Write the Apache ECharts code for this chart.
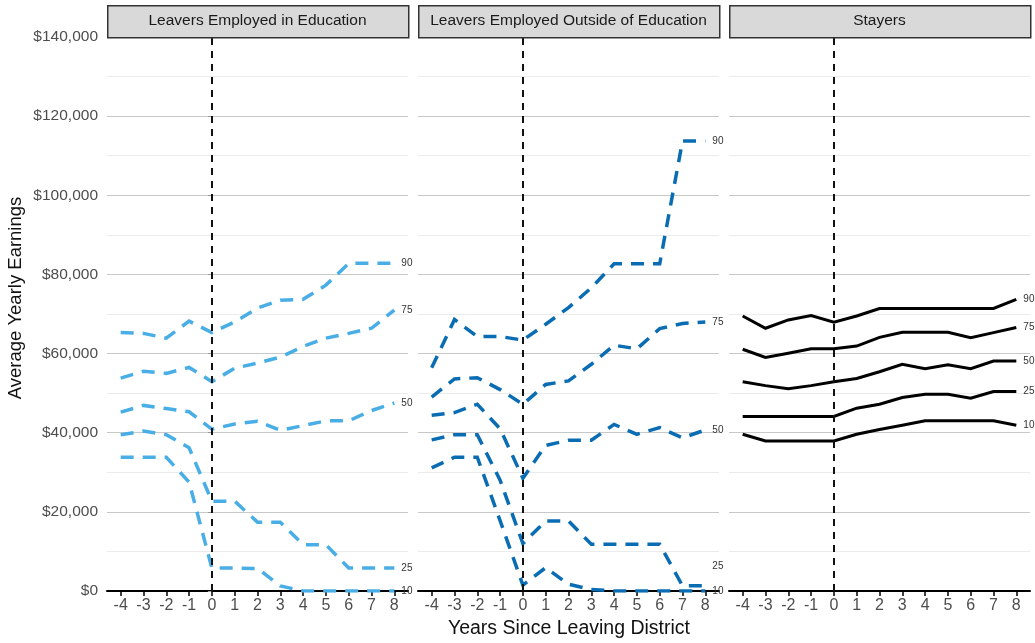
<!DOCTYPE html>
<html>
<head>
<meta charset="utf-8">
<script src="https://cdn.jsdelivr.net/npm/echarts@6/dist/echarts.min.js"></script>
<style>
html,body{margin:0;padding:0;background:#fff;}
#chart{width:1035px;height:643px;}
</style>
</head>
<body>
<div id="chart"></div>
<script>
// ---- Data ----
var years = [-4, -3, -2, -1, 0, 1, 2, 3, 4, 5, 6, 7, 8];
var panelTitles = ['Leavers Employed in Education', 'Leavers Employed Outside of Education', 'Stayers'];
var percentiles = ['90', '75', '50', '25', '10'];
var yTicks = [0, 20000, 40000, 60000, 80000, 100000, 120000, 140000];

// Leavers employed in education
var edu90 = [65300, 65100, 63900, 68200, 65300, 68000, 71500, 73500, 73700, 77300, 82800, 82800, 82800];
var edu75 = [53800, 55500, 55000, 56500, 52900, 56300, 57600, 59100, 61800, 63900, 65100, 66400, 71000];
var edu50 = [45200, 46900, 46100, 45300, 40900, 42200, 42900, 40600, 41800, 43000, 43000, 45600, 47500];
var edu25 = [39500, 40400, 39500, 36200, 22700, 22700, 17400, 17400, 11700, 11700, 5800, 5800, 5800];
var edu10 = [33800, 33800, 33800, 27500, 5800, 5800, 5700, 1300, 0, 0, 0, 0, 0];

// Leavers employed outside of education
var out90 = [56400, 68600, 64300, 64300, 63400, 67400, 71600, 76600, 82700, 82700, 82700, 113700, 113700];
var out75 = [49000, 53600, 53900, 50900, 47200, 52200, 53100, 57300, 62100, 61200, 66300, 67600, 68000];
var out50 = [44400, 45100, 47200, 41000, 28500, 36800, 38100, 38100, 42100, 39600, 41300, 38700, 40700];
var out25 = [38200, 39500, 39500, 28000, 12000, 17700, 17700, 11800, 11800, 11800, 11800, 1300, 1300];
var out10 = [31100, 33800, 33800, 17800, 1500, 5900, 1700, 400, 0, 0, 0, 0, 0];

// Stayers
var stay90 = [69500, 66400, 68500, 69600, 67900, 69500, 71400, 71400, 71400, 71400, 71400, 71400, 73700];
var stay75 = [61100, 59000, 60100, 61200, 61200, 61900, 64100, 65400, 65400, 65400, 64000, 65300, 66600];
var stay50 = [52900, 51900, 51100, 51900, 52900, 53700, 55400, 57300, 56200, 57200, 56200, 58100, 58100];
var stay25 = [44100, 44100, 44100, 44100, 44100, 46200, 47200, 48900, 49700, 49700, 48700, 50400, 50400];
var stay10 = [39600, 37900, 37900, 37900, 37900, 39600, 40800, 41900, 43000, 43000, 43000, 43000, 41900];

var panelData = [
  [edu90, edu75, edu50, edu25, edu10],
  [out90, out75, out50, out25, out10],
  [stay90, stay75, stay50, stay25, stay10]
];

// ---- Styles / layout ----
var colors = ['#4aaee6', '#0a6db3', '#000000'];
var dashed = [true, true, false];
var panelLeft = [107, 418, 729];
var panelW = 301, panelTop = 37, panelH = 554;
// label nudges (panel, series index) -> offset
var labelOffsets = {'1-3': [0, -20]};

var chart = echarts.init(document.getElementById('chart'), null, {renderer: 'canvas'});
var font = '"Liberation Sans", Arial, Helvetica, sans-serif';

var grids = [], xAxes = [], yAxes = [], series = [], graphics = [];

for (var p = 0; p < 3; p++) {
  grids.push({left: panelLeft[p], top: panelTop, width: panelW, height: panelH, containLabel: false});
  xAxes.push({
    type: 'value', gridIndex: p, min: -4.6, max: 8.6,
    axisLine: {show: true, onZero: false, lineStyle: {color: '#000', width: 2}},
    axisTick: {show: true, customValues: years, length: 5, lineStyle: {color: '#000', width: 1.5}},
    axisLabel: {show: true, customValues: years, color: '#4d4d4d', fontSize: 16, margin: 7, fontFamily: font},
    splitLine: {show: false}
  });
  yAxes.push({
    type: 'value', gridIndex: p, min: 0, max: 140000, interval: 20000,
    axisLine: {show: false},
    axisTick: {show: p === 0, length: 4, lineStyle: {color: '#9a9a9a'}},
    axisLabel: {show: p === 0, color: '#4d4d4d', fontSize: 15.5, margin: 9, fontFamily: font,
      formatter: function (v) { return '$' + v.toLocaleString('en-US'); }},
    splitLine: {show: true, lineStyle: {color: '#c8c8c8', width: 1}},
    minorTick: {show: false, splitNumber: 2},
    minorSplitLine: {show: true, lineStyle: {color: '#ebebeb', width: 1}}
  });
  for (var s = 0; s < 5; s++) {
    var vals = panelData[p][s];
    var d = years.map(function (yr, i) { return [yr, vals[i]]; });
    var ser = {
      type: 'line', xAxisIndex: p, yAxisIndex: p, name: percentiles[s],
      data: d, symbol: 'none', smooth: false, z: 3,
      lineStyle: {color: colors[p], width: dashed[p] ? 3.5 : 3, type: dashed[p] ? [13, 9] : 'solid', cap: 'butt', join: 'miter'},
      endLabel: {show: true, formatter: percentiles[s], fontSize: 10, color: '#333', distance: 7, fontFamily: font,
        offset: labelOffsets[p + '-' + s] || [0, 0]},
      emphasis: {disabled: true}, silent: true
    };
    if (s === 0) {
      ser.markLine = {
        silent: true, symbol: 'none', animation: false,
        label: {show: false},
        lineStyle: {color: '#111', width: 2, type: [7, 6]},
        data: [{xAxis: 0}]
      };
    }
    series.push(ser);
  }
  // strip
  graphics.push({
    type: 'rect', left: panelLeft[p], top: 5, z: 10,
    shape: {width: panelW, height: panelTop - 5},
    style: {fill: '#d9d9d9', stroke: '#333', lineWidth: 1.5}
  });
  graphics.push({
    type: 'text', z: 11,
    x: panelLeft[p] + panelW / 2, y: 5 + (panelTop - 5) / 2,
    style: {text: panelTitles[p], fill: '#1a1a1a', fontSize: 15.5, fontFamily: font, align: 'center', verticalAlign: 'middle'}
  });
}

graphics.push({
  type: 'text', x: 569, y: 629,
  style: {text: 'Years Since Leaving District', fill: '#111', fontSize: 19.5, fontFamily: font, align: 'center', verticalAlign: 'middle'}
});
graphics.push({
  type: 'text', x: 16, y: 298, rotation: Math.PI / 2,
  style: {text: 'Average Yearly Earnings', fill: '#111', fontSize: 18.5, fontFamily: font, align: 'center', verticalAlign: 'middle'}
});

chart.setOption({
  animation: false,
  backgroundColor: '#fff',
  textStyle: {fontFamily: font},
  grid: grids, xAxis: xAxes, yAxis: yAxes, series: series, graphic: graphics
});
</script>
</body>
</html>
